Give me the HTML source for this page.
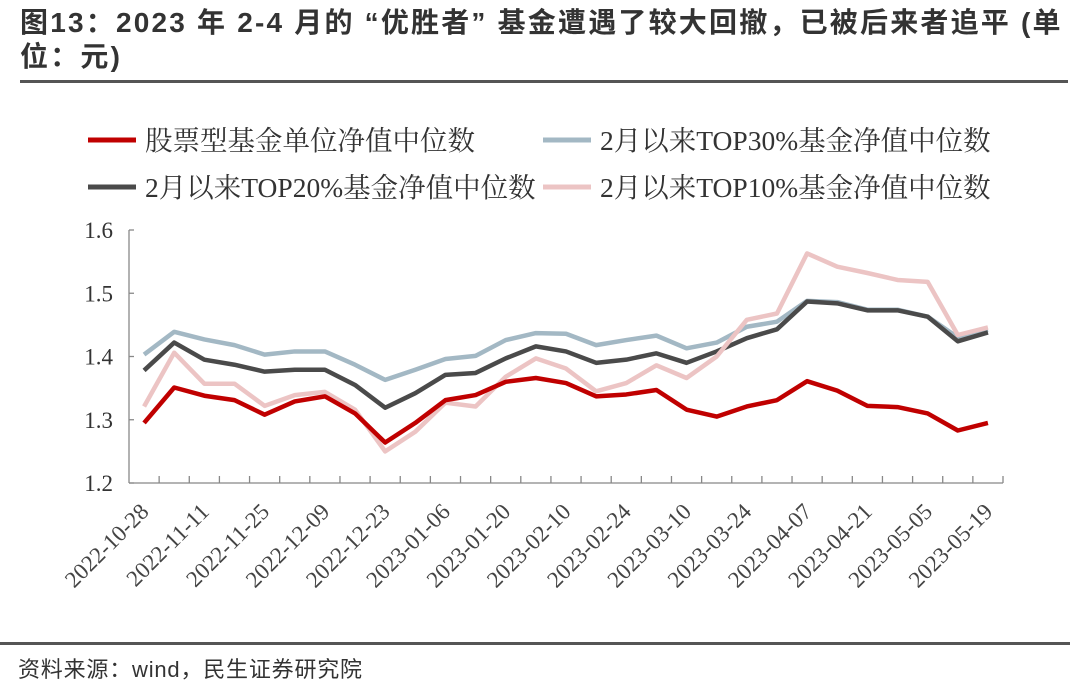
<!DOCTYPE html>
<html><head><meta charset="utf-8"><style>
body{margin:0;width:1080px;height:691px;background:#fff;overflow:hidden;font-family:"Liberation Sans","Noto Sans CJK SC",sans-serif;}
#title{position:absolute;left:20px;top:6px;width:1060px;font-size:28px;font-weight:bold;color:#333;line-height:34px;letter-spacing:2.2px;white-space:nowrap;}
#rule-top{position:absolute;left:20px;top:80px;width:1048px;height:3px;background:#555;}
#rule-bot{position:absolute;left:0;top:642px;width:1070px;height:3px;background:#555;}
#footer{position:absolute;left:18px;top:652px;font-size:22px;color:#333;letter-spacing:0.8px;}
svg{position:absolute;left:0;top:0;}
</style></head><body>
<div id="title">图13：2023 年 2-4 月的 “优胜者” 基金遭遇了较大回撤，已被后来者追平 (单<br>位：元)</div>
<div id="rule-top"></div>
<svg id="chart" width="1080" height="691"></svg>
<div id="rule-bot"></div>
<div id="footer">资料来源：wind，民生证券研究院</div>
<script>
const dateLabels=["2022-10-28","2022-11-11","2022-11-25","2022-12-09","2022-12-23","2023-01-06","2023-01-20","2023-02-10","2023-02-24","2023-03-10","2023-03-24","2023-04-07","2023-04-21","2023-05-05","2023-05-19"];
const yTicks=[1.2,1.3,1.4,1.5,1.6];
const seriesNames=["股票型基金单位净值中位数","2月以来TOP30%基金净值中位数","2月以来TOP20%基金净值中位数","2月以来TOP10%基金净值中位数"];
const stockFund=[1.295,1.351,1.338,1.331,1.308,1.329,1.337,1.310,1.264,1.295,1.331,1.339,1.360,1.366,1.358,1.337,1.340,1.347,1.316,1.305,1.321,1.331,1.361,1.346,1.322,1.320,1.310,1.283,1.295];
const top30=[1.403,1.439,1.427,1.418,1.403,1.408,1.408,1.387,1.363,1.379,1.396,1.401,1.426,1.437,1.436,1.418,1.426,1.433,1.413,1.422,1.447,1.455,1.488,1.486,1.474,1.474,1.463,1.430,1.442];
const top20=[1.378,1.422,1.395,1.387,1.376,1.379,1.379,1.355,1.319,1.342,1.371,1.374,1.397,1.416,1.408,1.390,1.395,1.405,1.390,1.408,1.429,1.443,1.487,1.484,1.473,1.473,1.463,1.424,1.438];
const top10=[1.321,1.406,1.357,1.357,1.322,1.339,1.344,1.316,1.250,1.281,1.327,1.321,1.368,1.397,1.381,1.345,1.358,1.386,1.366,1.400,1.458,1.468,1.563,1.542,1.532,1.521,1.518,1.434,1.446];

const svg=document.getElementById('chart');const NS='http://www.w3.org/2000/svg';
const X0=129,X1=1003,Y0=483,Y1=230,N=stockFund.length;
const step=(X1-X0)/N;
const x=i=>X0+step*(i+0.5);
const y=v=>Y0-(v-1.2)/(0.4)*(Y0-Y1);
function mk(tag,attrs,parent){const e=document.createElementNS(NS,tag);for(const k in attrs)e.setAttribute(k,attrs[k]);(parent||svg).appendChild(e);return e;}
const ya=mk('line',{x1:X0,y1:Y1,x2:X0,y2:Y0,stroke:'#888','stroke-width':1.3});


const xa=mk('line',{x1:X0,y1:Y0,x2:X1,y2:Y0,stroke:'#888','stroke-width':1.3});


yTicks.forEach(t=>{
  mk('line',{x1:X0,y1:y(t),x2:X0+5,y2:y(t),stroke:'#888','stroke-width':1.3});
  const tx=mk('text',{x:X0-16,y:y(t)+8,'text-anchor':'end','font-size':23,fill:'#333','font-family':'Liberation Serif,serif'});
  tx.textContent=t.toFixed(1);
  
  
});
for(let i=1;i<=N;i++){mk('line',{x1:X0+step*i,y1:Y0,x2:X0+step*i,y2:Y0-7,stroke:'#888','stroke-width':1.3});}
dateLabels.forEach((d,k)=>{
  const px=x(k*2)+6,py=Y0+30;
  const tx=mk('text',{x:px,y:py,'text-anchor':'end','font-size':23,fill:'#444','font-family':'Liberation Serif,serif',transform:`rotate(-45 ${px} ${py})`});
  tx.textContent=d;
  
  
});
const colors=['#c00000','#a3b8c4','#4a4a4a','#ecc4c4'];
const data=[stockFund,top30,top20,top10];
const order=[1,2,3,0];
order.forEach(s=>{
  const p=mk('polyline',{points:data[s].map((v,i)=>x(i)+','+y(v)).join(' '),fill:'none',stroke:colors[s],'stroke-width':4.5,'stroke-linejoin':'round'});
  
  
});
const leg=[[88,140,0],[543,140,1],[88,187,2],[543,187,3]];
leg.forEach(([lx,ly,s])=>{
  const g=mk('g',{});
  
  
  mk('line',{x1:lx,y1:ly,x2:lx+48,y2:ly,stroke:colors[s],'stroke-width':5},g);
  const t=mk('text',{x:lx+57,y:ly+10,'font-size':27.5,fill:'#333','font-family':'Liberation Serif,Noto Serif CJK SC,serif'},g);
  t.textContent=seriesNames[s];
});
</script>
</body></html>
